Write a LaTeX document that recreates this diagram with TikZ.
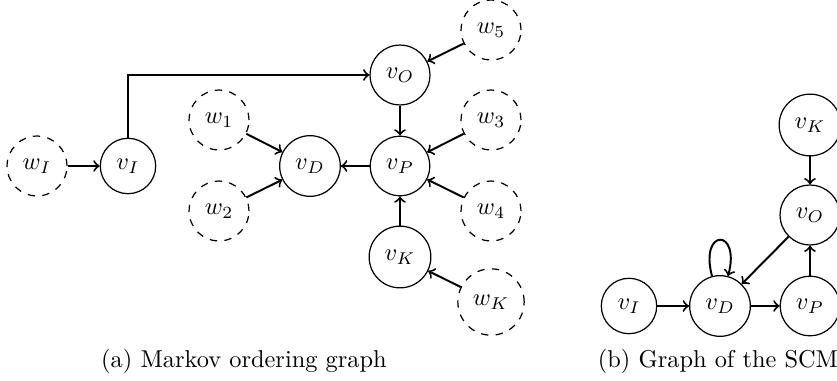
\documentclass[tikz,border=0pt]{standalone}
\begin{document}
\begin{tikzpicture}[x=0.41pt,y=0.41pt,
  var/.style={circle,draw,line width=0.5pt,inner sep=4.2pt},
  noise/.style={var,dashed},
  arc/.style={->,thick},
  captext/.style={inner sep=0pt}
]
\useasboundingbox (0,0) rectangle (837,380);
% (a) Markov ordering graph
\node[noise] (wI) at (37,214) {$w_I$};
\node[var]   (vI) at (128,214) {$v_I$};
\node[noise] (w1) at (219,260) {$w_1$};
\node[noise] (w2) at (219,169) {$w_2$};
\node[var]   (vD) at (310,214) {$v_D$};
\node[var]   (vP) at (400,214) {$v_P$};
\node[var]   (vO) at (400,305) {$v_O$};
\node[var]   (vK) at (400,123) {$v_K$};
\node[noise] (w5) at (491,350) {$w_5$};
\node[noise] (w3) at (491,260) {$w_3$};
\node[noise] (w4) at (491,169) {$w_4$};
\node[noise] (wK) at (491,78) {$w_K$};
\draw[arc] (wI) -- (vI);
\draw[arc] (vI) |- (vO);
\draw[arc] (w5) -- (vO);
\draw[arc] (vO) -- (vP);
\draw[arc] (w1) -- (vD);
\draw[arc] (w2) -- (vD);
\draw[arc] (vP) -- (vD);
\draw[arc] (w3) -- (vP);
\draw[arc] (w4) -- (vP);
\draw[arc] (vK) -- (vP);
\draw[arc] (wK) -- (vK);
\node[captext] (capa) at (244,19) {(a) Markov ordering graph};
% (b) Graph of the SCM
\node[var] (bI) at (629,74) {$v_I$};
\node[var] (bD) at (720,74) {$v_D$};
\node[var] (bP) at (810,74) {$v_P$};
\node[var] (bO) at (810,165) {$v_O$};
\node[var] (bK) at (810,255) {$v_K$};
\draw[arc] (bI) -- (bD);
\draw[arc] (bD) -- (bP);
\draw[arc] (bP) -- (bO);
\draw[arc] (bK) -- (bO);
\draw[arc] (bO) -- (bD);
\draw[arc] (bD) to[loop above] (bD);
\node[captext] (capb) at (718,19) {(b) Graph of the SCM};
\end{tikzpicture}
\end{document}
